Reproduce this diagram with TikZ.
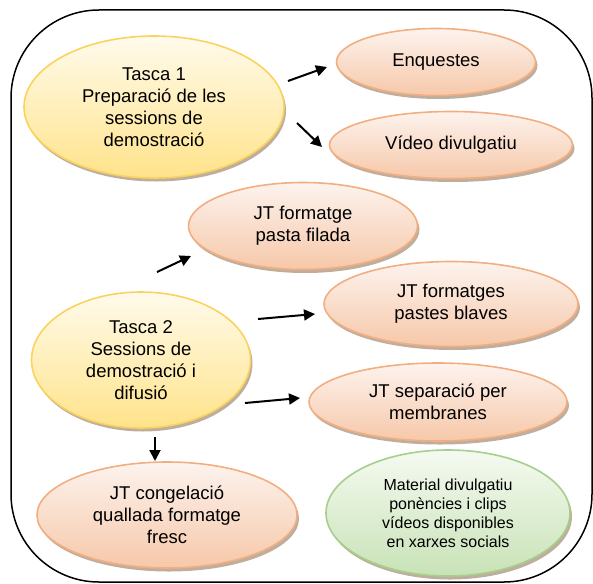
\documentclass[tikz,border=0pt]{standalone}
\usepackage{fontspec}
\setmainfont{Liberation Sans}
\usetikzlibrary{shapes.geometric,arrows.meta,shadows}
\definecolor{ylwtop}{HTML}{FFFBEC}
\definecolor{ylwbot}{HTML}{FFE38A}
\definecolor{ylwline}{HTML}{FAD35E}
\definecolor{orgtop}{HTML}{FDF3EE}
\definecolor{orgbot}{HTML}{F6C8A9}
\definecolor{orgline}{HTML}{F2AE80}
\definecolor{grntop}{HTML}{F5FAF1}
\definecolor{grnbot}{HTML}{C8E2B6}
\definecolor{grnline}{HTML}{A5CF8A}
\definecolor{shadowc}{HTML}{B8A592}
\begin{document}
\begin{tikzpicture}[x=1pt,y=-1pt,
  bub/.style={ellipse, inner sep=0pt, line width=1.6pt, align=center,
    font=\fontsize{18.5}{22}\selectfont,
    drop shadow={shadow xshift=2pt,shadow yshift=-3.5pt,fill=shadowc,opacity=0.9}},
  yel/.style={bub, draw=ylwline, top color=ylwtop, bottom color=ylwbot},
  org/.style={bub, draw=orgline, top color=orgtop, bottom color=orgbot},
  grn/.style={bub, draw=grnline, top color=grntop, bottom color=grnbot,
    font=\fontsize{16}{19}\selectfont},
  arr/.style={line width=2pt, -{Triangle[length=11pt,width=11pt]}}]
\useasboundingbox (0,0) rectangle (593,583);
\draw[line width=1.5pt, rounded corners=88pt] (11,10) rectangle (592,582);

\node[yel, minimum width=260pt, minimum height=142pt] (t1) at (154,107)
  {Tasca 1\\Preparació de les\\sessions de\\demostració};
\node[org, minimum width=199pt, minimum height=67pt] (enq) at (436,62)
  {Enquestes};
\node[org, minimum width=243pt, minimum height=67pt] (vid) at (451,145)
  {Vídeo divulgatiu};
\node[org, minimum width=229pt, minimum height=87pt] (fil) at (303,226)
  {JT formatge\\pasta filada};
\node[org, minimum width=254pt, minimum height=85pt] (blav) at (451,304)
  {JT formatges\\pastes blaves};
\node[yel, minimum width=219pt, minimum height=136pt] (t2) at (141,360)
  {Tasca 2\\Sessions de\\demostració i\\difusió};
\node[org, minimum width=258pt, minimum height=78pt] (sep) at (438,402)
  {JT separació per\\membranes};
\node[org, minimum width=260pt, minimum height=106pt] (cong) at (167,515)
  {JT congelació\\quallada formatge\\fresc};
\node[grn, minimum width=244pt, minimum height=126pt] (mat) at (448,513)
  {Material divulgatiu\\ponències i clips\\vídeos disponibles\\en xarxes socials};

\coordinate (a1s) at (288,81);  \coordinate (a1e) at (327,67);
\coordinate (a2s) at (297,123); \coordinate (a2e) at (322,147);
\coordinate (a3s) at (157,272); \coordinate (a3e) at (191,256);
\coordinate (a4s) at (258,319); \coordinate (a4e) at (315,314);
\coordinate (a5s) at (245,403); \coordinate (a5e) at (300,398);
\coordinate (a6s) at (155,437); \coordinate (a6e) at (155,461);
\draw[arr] (a1s) -- (a1e);
\draw[arr] (a2s) -- (a2e);
\draw[arr] (a3s) -- (a3e);
\draw[arr] (a4s) -- (a4e);
\draw[arr] (a5s) -- (a5e);
\draw[arr] (a6s) -- (a6e);
\end{tikzpicture}
\end{document}
